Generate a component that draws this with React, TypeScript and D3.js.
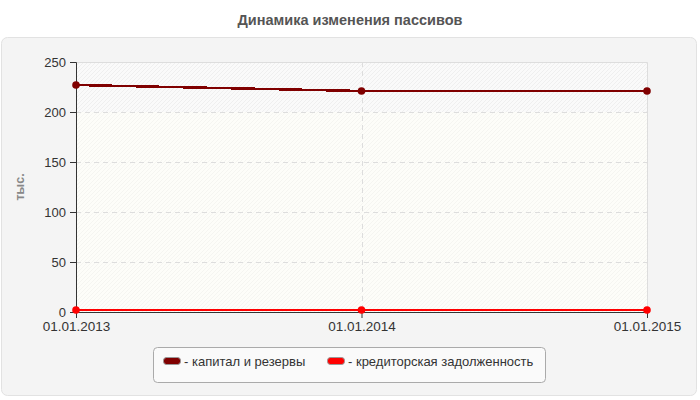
import { useEffect, useRef } from 'react';
import * as d3 from 'd3';

const dates = ['01.01.2013', '01.01.2014', '01.01.2015'];
const capitalReserves = [227, 221, 221];
const payables = [2, 2, 2];
const yTicks = [0, 50, 100, 150, 200, 250];
const seriesNames = ['капитал и резервы', 'кредиторская задолженность'];
const seriesColors = ['#800000', '#ff0000'];

const W = 700;
const H = 400;

export default function App() {
  const svgRef = useRef<SVGSVGElement>(null);

  useEffect(() => {
    if (!svgRef.current) return;
    const svg = d3.select(svgRef.current);
    svg.selectAll('*').remove();

    const margin = { top: 62, right: 53, bottom: 88, left: 76 };
    const innerW = W - margin.left - margin.right;
    const innerH = H - margin.top - margin.bottom;
    const font = '"Liberation Sans", Arial, sans-serif';

    // hatch patterns for plot bands
    const defs = svg.append('defs');
    const mkHatch = (id: string, bg: string, line: string) => {
      const p = defs.append('pattern')
        .attr('id', id)
        .attr('patternUnits', 'userSpaceOnUse')
        .attr('width', 4).attr('height', 4);
      p.append('rect').attr('width', 4).attr('height', 4).attr('fill', bg);
      p.append('path').attr('d', 'M-1,1 l2,-2 M0,4 l4,-4 M3,5 l2,-2')
        .attr('stroke', line).attr('stroke-width', 0.7);
    };
    mkHatch('hatchTop', '#fafafa', '#ebebeb');
    mkHatch('hatchLow', '#fdfdf9', '#f2f2ee');

    // panel
    svg.append('rect')
      .attr('x', 1.5).attr('y', 37.5)
      .attr('width', 695).attr('height', 358)
      .attr('rx', 6)
      .attr('fill', '#f4f4f4')
      .attr('stroke', '#e2e2e2');

    svg.append('text')
      .attr('x', 350).attr('y', 25)
      .attr('text-anchor', 'middle')
      .attr('font-family', font)
      .attr('font-size', 14.5)
      .attr('font-weight', 'bold')
      .attr('fill', '#555')
      .text('Динамика изменения пассивов');

    const x = d3.scalePoint<string>().domain(dates).range([0, innerW]);
    const y = d3.scaleLinear().domain([0, 250]).range([innerH, 0]);

    const g = svg.append('g').attr('transform', `translate(${margin.left},${margin.top})`);

    // bands
    g.append('rect')
      .attr('x', 0).attr('y', y(250))
      .attr('width', innerW).attr('height', y(200) - y(250))
      .attr('fill', 'url(#hatchTop)');
    g.append('rect')
      .attr('x', 0).attr('y', y(200))
      .attr('width', innerW).attr('height', y(0) - y(200))
      .attr('fill', 'url(#hatchLow)');

    // grid
    g.selectAll('.hgrid')
      .data(yTicks.filter(t => t > 0 && t < 250))
      .enter().append('line')
      .attr('x1', 0).attr('x2', innerW)
      .attr('y1', d => Math.round(y(d)) + 0.5).attr('y2', d => Math.round(y(d)) + 0.5)
      .attr('stroke', '#dddddd')
      .attr('stroke-dasharray', '5,4');
    g.selectAll('.vgrid')
      .data(dates.slice(1, -1))
      .enter().append('line')
      .attr('x1', d => Math.round(x(d)!) + 0.5).attr('x2', d => Math.round(x(d)!) + 0.5)
      .attr('y1', 0).attr('y2', innerH)
      .attr('stroke', '#dddddd')
      .attr('stroke-dasharray', '5,4');
    // top and right border
    g.append('path')
      .attr('d', `M0,0.5 H${innerW + 0.5} V${innerH}`)
      .attr('fill', 'none')
      .attr('stroke', '#dddddd');

    // axes
    const yAxis = g.append('g')
      .call(d3.axisLeft(y).tickValues(yTicks).tickSize(6).tickPadding(4));
    yAxis.select('.domain').attr('stroke', '#333').attr('d', `M-6,0.5 H0.5 V${innerH}`);
    yAxis.selectAll('line').attr('stroke', '#333');
    yAxis.selectAll('text').attr('font-family', font).attr('font-size', 13).attr('fill', '#333');

    const xAxis = g.append('g')
      .attr('transform', `translate(0,${innerH})`)
      .call(d3.axisBottom(x).tickSize(6).tickPadding(3));
    xAxis.select('.domain').attr('stroke', '#333').attr('d', `M0,0.5 H${innerW}`);
    xAxis.selectAll('line').attr('stroke', '#333');
    xAxis.selectAll('text').attr('font-family', font).attr('font-size', 13.5).attr('fill', '#333');

    svg.append('text')
      .attr('transform', `translate(24,187) rotate(-90)`)
      .attr('text-anchor', 'middle')
      .attr('font-family', font)
      .attr('font-size', 12.5)
      .attr('font-weight', 'bold')
      .attr('fill', '#888')
      .text('тыс.');

    // series
    const seriesData = [capitalReserves, payables];
    const line = d3.line<number>()
      .x((_, i) => x(dates[i])!)
      .y(d => y(d));
    seriesData.forEach((vals, si) => {
      g.append('path')
        .datum(vals)
        .attr('d', line)
        .attr('fill', 'none')
        .attr('stroke', seriesColors[si])
        .attr('stroke-width', 2.5)
        .attr('shape-rendering', 'crispEdges');
      g.selectAll(`.pt${si}`)
        .data(vals)
        .enter().append('circle')
        .attr('cx', (_, i) => x(dates[i])!)
        .attr('cy', d => y(d))
        .attr('r', 3.8)
        .attr('fill', seriesColors[si]);
    });

    // legend
    const lg = svg.append('g');
    lg.append('rect')
      .attr('x', 153.5).attr('y', 347.5)
      .attr('width', 392).attr('height', 35)
      .attr('rx', 4)
      .attr('fill', '#fafafa')
      .attr('stroke', '#aaaaaa');
    const legendX = [163, 327];
    seriesNames.forEach((name, i) => {
      lg.append('rect')
        .attr('x', legendX[i] + 0.5).attr('y', 357.5)
        .attr('width', 17).attr('height', 7)
        .attr('rx', 3)
        .attr('fill', seriesColors[i])
        .attr('stroke', '#999');
      lg.append('text')
        .attr('x', legendX[i] + 21).attr('y', 366)
        .attr('font-family', font)
        .attr('font-size', 13)
        .attr('fill', '#333')
        .text('- ' + name);
    });
  }, []);

  return (
    <svg
      ref={svgRef}
      width={W}
      height={H}
      style={{ position: 'absolute', left: 0, top: 0, background: '#fff' }}
    />
  );
}
